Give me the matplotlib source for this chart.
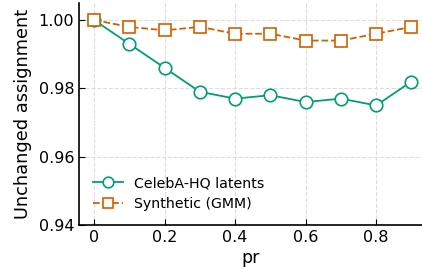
import matplotlib
matplotlib.use("Agg")
import matplotlib.pyplot as plt

# data
pr = [0.0, 0.1, 0.2, 0.3, 0.4, 0.5, 0.6, 0.7, 0.8, 0.9]
celeba = [1.000, 0.993, 0.986, 0.979, 0.977, 0.978, 0.976, 0.977, 0.975, 0.982]
gmm = [1.000, 0.998, 0.997, 0.998, 0.996, 0.996, 0.994, 0.994, 0.996, 0.998]
xticks = [0, 0.2, 0.4, 0.6, 0.8]
xtick_labels = ["0", "0.2", "0.4", "0.6", "0.8"]
yticks = [0.94, 0.96, 0.98, 1.00]

fig = plt.figure(figsize=(4.22, 2.67), dpi=100)
ax = fig.add_axes([79 / 422, 42 / 267, 343 / 422, 222 / 267])

ax.plot(pr, celeba, "-o", color="#009E73", lw=1.3, ms=9,
        mfc="white", mew=1.2, label="CelebA-HQ latents")
ax.plot(pr, gmm, "--s", color="#D55E00", lw=1.3, ms=9,
        mfc="white", mew=1.2, label="Synthetic (GMM)")

ax.set_xlim(-0.043, 0.93)
ax.set_ylim(0.94, 1.005)
ax.set_xticks(xticks)
ax.set_xticklabels(xtick_labels)
ax.set_yticks(yticks)
ax.set_yticklabels([f"{v:.2f}" for v in yticks])
ax.tick_params(direction="in", labelsize=11.5, length=4)
ax.grid(True, ls="--", color="#dddddd", lw=0.8)
ax.spines["top"].set_visible(False)
ax.spines["right"].set_visible(False)
ax.spines["left"].set_linewidth(1.2)
ax.spines["bottom"].set_linewidth(1.2)

ax.set_xlabel("pr", fontsize=12.5, labelpad=3)
ax.set_ylabel("Unchanged assignment", fontsize=12.8, labelpad=5)
ax.legend(loc="lower left", frameon=False, fontsize=10.2,
          handlelength=2.1, handletextpad=0.8, markerscale=0.85,
          borderaxespad=0.6, labelspacing=0.45)

fig.savefig("out.png", dpi=100)
